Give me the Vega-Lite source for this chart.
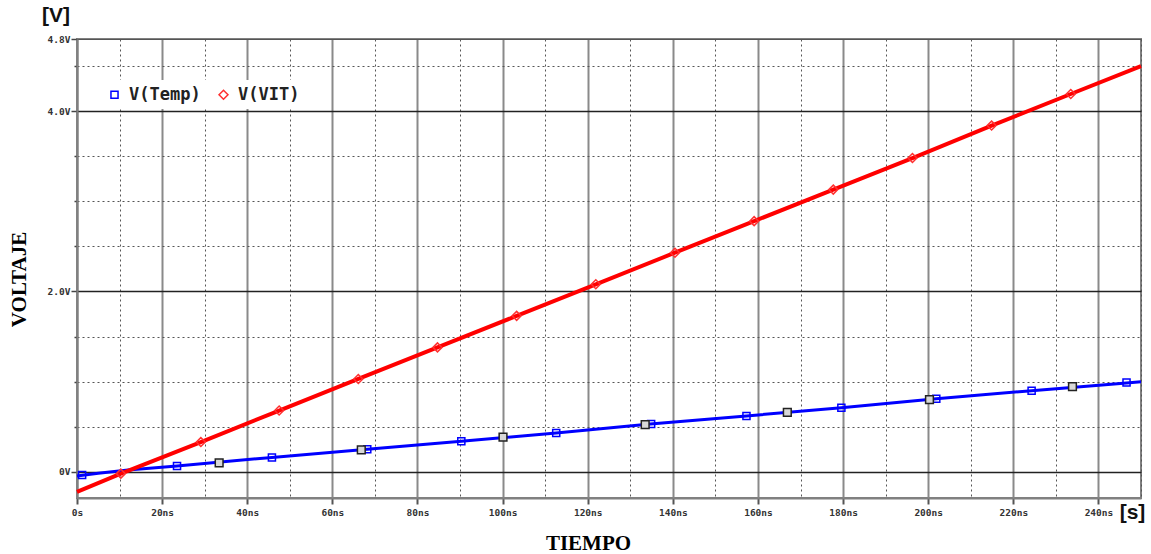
{
  "$schema": "https://vega.github.io/schema/vega-lite/v6.json",
  "width": 1064,
  "height": 459,
  "autosize": {"type": "none"},
  "padding": {"left": 77, "top": 39, "right": 10, "bottom": 56},
  "background": "white",
  "config": {
    "view": {"stroke": "#808080", "strokeWidth": 2},
    "axis": {"labelOverlap": false, "labelBound": false, "labelFlush": false}
  },
  "title": {"text": "[V]", "anchor": "start", "frame": "group", "dx": -35, "offset": 8, "font": "Liberation Sans", "fontSize": 21, "fontWeight": "bold", "color": "#111"},
  "datasets": {
    "traces": [
      {"series": "V(Temp)", "t": 0, "v": -0.045},
      {"series": "V(Temp)", "t": 5, "v": -0.015},
      {"series": "V(Temp)", "t": 12, "v": 0.02},
      {"series": "V(Temp)", "t": 23.5, "v": 0.065},
      {"series": "V(Temp)", "t": 45.8, "v": 0.16},
      {"series": "V(Temp)", "t": 68.2, "v": 0.25},
      {"series": "V(Temp)", "t": 90.3, "v": 0.34},
      {"series": "V(Temp)", "t": 112.6, "v": 0.43},
      {"series": "V(Temp)", "t": 134.7, "v": 0.53},
      {"series": "V(Temp)", "t": 157.3, "v": 0.62},
      {"series": "V(Temp)", "t": 179.6, "v": 0.71},
      {"series": "V(Temp)", "t": 201.9, "v": 0.81},
      {"series": "V(Temp)", "t": 224.3, "v": 0.9},
      {"series": "V(Temp)", "t": 246.6, "v": 0.985},
      {"series": "V(Temp)", "t": 250, "v": 1.0},
      {"series": "V(VIT)", "t": 0, "v": -0.222},
      {"series": "V(VIT)", "t": 10.3, "v": -0.02},
      {"series": "V(VIT)", "t": 29.1, "v": 0.33},
      {"series": "V(VIT)", "t": 47.5, "v": 0.68},
      {"series": "V(VIT)", "t": 66.1, "v": 1.03},
      {"series": "V(VIT)", "t": 84.7, "v": 1.38},
      {"series": "V(VIT)", "t": 103.3, "v": 1.73},
      {"series": "V(VIT)", "t": 121.9, "v": 2.08},
      {"series": "V(VIT)", "t": 140.5, "v": 2.43},
      {"series": "V(VIT)", "t": 159.1, "v": 2.78},
      {"series": "V(VIT)", "t": 177.7, "v": 3.13},
      {"series": "V(VIT)", "t": 196.3, "v": 3.48},
      {"series": "V(VIT)", "t": 214.9, "v": 3.84},
      {"series": "V(VIT)", "t": 233.5, "v": 4.19},
      {"series": "V(VIT)", "t": 250, "v": 4.5}
    ],
    "markers": [
      {"series": "V(Temp)", "t": 1.2, "v": -0.035},
      {"series": "V(Temp)", "t": 23.5, "v": 0.065},
      {"series": "V(Temp)", "t": 45.8, "v": 0.16},
      {"series": "V(Temp)", "t": 68.2, "v": 0.25},
      {"series": "V(Temp)", "t": 90.3, "v": 0.34},
      {"series": "V(Temp)", "t": 112.6, "v": 0.43},
      {"series": "V(Temp)", "t": 134.9, "v": 0.53},
      {"series": "V(Temp)", "t": 157.3, "v": 0.62},
      {"series": "V(Temp)", "t": 179.6, "v": 0.71},
      {"series": "V(Temp)", "t": 201.9, "v": 0.81},
      {"series": "V(Temp)", "t": 224.3, "v": 0.9},
      {"series": "V(Temp)", "t": 246.6, "v": 0.99},
      {"series": "V(VIT)", "t": 10.3, "v": -0.02},
      {"series": "V(VIT)", "t": 29.1, "v": 0.33},
      {"series": "V(VIT)", "t": 47.5, "v": 0.68},
      {"series": "V(VIT)", "t": 66.1, "v": 1.03},
      {"series": "V(VIT)", "t": 84.7, "v": 1.38},
      {"series": "V(VIT)", "t": 103.3, "v": 1.73},
      {"series": "V(VIT)", "t": 121.9, "v": 2.08},
      {"series": "V(VIT)", "t": 140.5, "v": 2.43},
      {"series": "V(VIT)", "t": 159.1, "v": 2.78},
      {"series": "V(VIT)", "t": 177.7, "v": 3.13},
      {"series": "V(VIT)", "t": 196.3, "v": 3.48},
      {"series": "V(VIT)", "t": 214.9, "v": 3.84},
      {"series": "V(VIT)", "t": 233.5, "v": 4.19}
    ],
    "extraMarkers": [
      {"t": 33.4, "v": 0.1},
      {"t": 66.8, "v": 0.245},
      {"t": 100.1, "v": 0.385},
      {"t": 133.5, "v": 0.525},
      {"t": 166.9, "v": 0.66},
      {"t": 200.3, "v": 0.8},
      {"t": 233.9, "v": 0.945}
    ],
    "unitLabels": [
      {"label": "[s]"}
    ]
  },
  "layer": [
    {
      "data": {"name": "traces"},
      "transform": [{"filter": "datum.series == 'V(Temp)'"}],
      "mark": {"type": "line", "color": "#0000ff", "strokeWidth": 3},
      "encoding": {
        "x": {
          "field": "t", "type": "quantitative",
          "scale": {"domain": [0, 250], "nice": false, "zero": false},
          "axis": {
            "values": [0,5,10,15,20,25,30,35,40,45,50,55,60,65,70,75,80,85,90,95,100,105,110,115,120,125,130,135,140,145,150,155,160,165,170,175,180,185,190,195,200,205,210,215,220,225,230,235,240,245,250],
            "labelExpr": "datum.value == 0 ? '0s' : ((datum.value % 20 == 0 && datum.value < 250) ? datum.value + 'ns' : '')",
            "grid": true,
            "gridColor": {"condition": {"test": "datum.value % 20 == 0", "value": "#8a8a8a"}, "value": "#555555"},
            "gridDash": {"condition": {"test": "datum.value % 20 == 0", "value": []}, "value": [2, 3]},
            "gridWidth": {"condition": {"test": "datum.value % 20 == 0", "value": 2}, "value": 1},
            "tickSize": {"condition": {"test": "datum.value % 20 == 0", "value": 6}, "value": 0},
            "tickColor": "#555555", "tickWidth": 2,
            "domainColor": "#808080", "domainWidth": 2,
            "labelFont": "DejaVu Sans Mono", "labelFontSize": 9.5, "labelFontWeight": "bold", "labelColor": "#333333", "labelPadding": 3,
            "title": "TIEMPO", "titleFont": "Liberation Serif", "titleFontSize": 21, "titleFontWeight": "bold", "titleColor": "#000000",
            "titleX": 511, "titleY": 51, "titleBaseline": "alphabetic", "titleAlign": "center"
          }
        },
        "y": {
          "field": "v", "type": "quantitative",
          "scale": {"domain": [-0.29, 4.8], "nice": false, "zero": false},
          "axis": {
            "values": [0, 0.5, 1, 1.5, 2, 2.5, 3, 3.5, 4, 4.5, 4.8],
            "labelExpr": "datum.value == 0 ? '0V' : ((datum.value == 2 || datum.value == 4 || datum.value == 4.8) ? format(datum.value, '.1f') + 'V' : '')",
            "grid": true,
            "gridColor": {"condition": {"test": "datum.value == 0 || datum.value == 2 || datum.value == 4", "value": "#222222"}, "value": "#555555"},
            "gridDash": {"condition": {"test": "datum.value == 0 || datum.value == 2 || datum.value == 4 || datum.value == 4.8", "value": []}, "value": [2, 3]},
            "gridWidth": {"condition": {"test": "datum.value == 0 || datum.value == 2 || datum.value == 4", "value": 1.5}, "value": 1},
            "tickSize": {"condition": {"test": "datum.value == 0 || datum.value == 2 || datum.value == 4 || datum.value == 4.8", "value": 6}, "value": 3},
            "tickColor": "#444444", "tickWidth": 1.5,
            "domainColor": "#808080", "domainWidth": 2,
            "labelFont": "DejaVu Sans Mono", "labelFontSize": 9.5, "labelFontWeight": "bold", "labelColor": "#333333", "labelPadding": 1,
            "title": "VOLTAJE", "titleFont": "Liberation Serif", "titleFontSize": 21, "titleFontWeight": "bold", "titleColor": "#000000",
            "titleX": -58, "titleY": 240, "titleBaseline": "middle", "titleAlign": "center", "titleAngle": -90
          }
        }
      }
    },
    {
      "data": {"name": "traces"},
      "transform": [{"filter": "datum.series == 'V(VIT)'"}],
      "mark": {"type": "line", "color": "#ff0000", "strokeWidth": 4},
      "encoding": {
        "x": {"field": "t", "type": "quantitative", "scale": {"domain": [0, 250], "nice": false, "zero": false}},
        "y": {"field": "v", "type": "quantitative", "scale": {"domain": [-0.29, 4.8], "nice": false, "zero": false}}
      }
    },
    {
      "data": {"name": "markers"},
      "mark": {"type": "point", "filled": false, "strokeWidth": 1.5, "opacity": 1},
      "encoding": {
        "x": {"field": "t", "type": "quantitative", "scale": {"domain": [0, 250], "nice": false, "zero": false}},
        "y": {"field": "v", "type": "quantitative", "scale": {"domain": [-0.29, 4.8], "nice": false, "zero": false}},
        "color": {
          "field": "series", "type": "nominal",
          "scale": {"domain": ["V(Temp)", "V(VIT)"], "range": ["#0000ff", "#ff3030"]},
          "legend": {
            "orient": "none", "legendX": 23, "legendY": 41, "direction": "horizontal", "title": null,
            "fillColor": "white", "padding": 6,
            "labelFont": "DejaVu Sans Mono", "labelFontSize": 17, "labelFontWeight": "bold", "labelColor": "#222222",
            "symbolStrokeWidth": 1.5, "columnPadding": 14, "labelOffset": 6
          }
        },
        "shape": {
          "field": "series", "type": "nominal",
          "scale": {"domain": ["V(Temp)", "V(VIT)"], "range": ["square", "diamond"]}
        },
        "size": {
          "field": "series", "type": "nominal",
          "scale": {"domain": ["V(Temp)", "V(VIT)"], "range": [50, 80]}
        }
      }
    },
    {
      "data": {"name": "extraMarkers"},
      "mark": {"type": "point", "shape": "square", "filled": true, "fill": "#d8d8d8", "stroke": "#222222", "strokeWidth": 1.5, "size": 60, "opacity": 1},
      "encoding": {
        "x": {"field": "t", "type": "quantitative", "scale": {"domain": [0, 250], "nice": false, "zero": false}},
        "y": {"field": "v", "type": "quantitative", "scale": {"domain": [-0.29, 4.8], "nice": false, "zero": false}}
      }
    },
    {
      "data": {"name": "unitLabels"},
      "mark": {"type": "text", "font": "Liberation Sans", "fontSize": 21, "fontWeight": "bold", "fill": "#111111", "align": "center", "baseline": "middle", "clip": false},
      "encoding": {
        "x": {"datum": 248, "type": "quantitative"},
        "y": {"datum": -0.46, "type": "quantitative"},
        "text": {"field": "label", "type": "nominal"}
      }
    }
  ]
}
